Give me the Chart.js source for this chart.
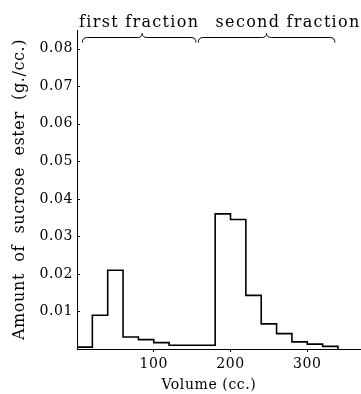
<!DOCTYPE html>
<html>
<head>
<meta charset="utf-8">
<script src="https://cdn.jsdelivr.net/npm/chart.js@4.4.1/dist/chart.umd.min.js"></script>
<style>
    html, body { margin: 0; padding: 0; background: #fff; }
    #wrap { width: 361px; height: 394px; }
</style>
</head>
<body>
<div id="wrap"><canvas id="chart"></canvas></div>
<script>
// left edge of each 20 cc. bin and the amount found in it (g./cc.)
var binStart = [0, 20, 40, 60, 80, 100, 120, 140, 160, 180, 200, 220, 240, 260, 280, 300, 320, 340];
var amount = [0.0005, 0.009, 0.021, 0.0032, 0.0025, 0.0017, 0.001, 0.001, 0.001, 0.036, 0.0345, 0.0143, 0.0067, 0.0041, 0.0019, 0.0013, 0.0007, 0];

var xTicks = [100, 200, 300];
var yTicks = [0.01, 0.02, 0.03, 0.04, 0.05, 0.06, 0.07, 0.08];

// braces over the two fractions (volume, cc.)
var fractionNames = ['first fraction', 'second fraction'];
var fractionFrom = [7, 158];
var fractionTip = [85, 247];
var fractionTo = [155, 336];
var fractionLabelAt = [81, 275];

Chart.defaults.font.family = '"DejaVu Serif", serif';
Chart.defaults.color = '#000';

var points = binStart.map(function (x, i) {
    return { x: x, y: amount[i] };
});

var ink = {
    id: 'ink',
    beforeDraw: function (chart) {
        chart.ctx.letterSpacing = '0.6px';
    },
    afterDraw: function (chart) {
        var ctx = chart.ctx;
        var xs = chart.scales.x;
        var ys = chart.scales.y;
        var top = chart.chartArea.top;

        ctx.save();
        ctx.strokeStyle = '#000';
        ctx.lineWidth = 1;

        // little tick marks inside the y axis
        yTicks.forEach(function (v) {
            var py = Math.round(ys.getPixelForValue(v)) + 0.5;
            ctx.beginPath();
            ctx.moveTo(xs.left, py);
            ctx.lineTo(xs.left + 3, py);
            ctx.stroke();
        });

        ctx.font = '16px "DejaVu Serif"';
        ctx.fillStyle = '#000';
        ctx.textAlign = 'center';
        ctx.textBaseline = 'alphabetic';
        ctx.letterSpacing = '1.3px';

        for (var i = 0; i < fractionNames.length; i++) {
            var x1 = xs.getPixelForValue(fractionFrom[i]);
            var xm = xs.getPixelForValue(fractionTip[i]);
            var x2 = xs.getPixelForValue(fractionTo[i]);
            var yb = top + 7.5;

            ctx.beginPath();
            ctx.moveTo(x1, yb + 5);
            ctx.quadraticCurveTo(x1, yb, x1 + 5, yb);
            ctx.lineTo(xm - 5, yb);
            ctx.quadraticCurveTo(xm, yb, xm, yb - 4);
            ctx.quadraticCurveTo(xm, yb, xm + 5, yb);
            ctx.lineTo(x2 - 5, yb);
            ctx.quadraticCurveTo(x2, yb, x2, yb + 5);
            ctx.stroke();

            ctx.fillText(fractionNames[i], xs.getPixelForValue(fractionLabelAt[i]), top - 3);
        }
        ctx.restore();
    }
};

var ctx = document.getElementById('chart').getContext('2d');

var myChart = new Chart(ctx, {
    type: 'line',
    data: {
        datasets: [{
            data: points,
            borderColor: '#000',
            borderWidth: 1.6,
            stepped: 'before',
            pointRadius: 0,
            fill: false
        }]
    },
    options: {
        responsive: true,
        maintainAspectRatio: false,
        animation: false,
        layout: { padding: { top: 30, right: 0, bottom: 0, left: 0 } },
        plugins: {
            legend: { display: false },
            tooltip: { enabled: false }
        },
        scales: {
            x: {
                type: 'linear',
                min: 0,
                max: 370,
                afterBuildTicks: function (scale) {
                    scale.ticks = xTicks.map(function (v) { return { value: v }; });
                },
                afterFit: function (scale) {
                    scale.height = 45;
                },
                grid: { drawOnChartArea: false, drawTicks: true, tickLength: 3, color: '#000' },
                border: { color: '#000', width: 1 },
                ticks: { padding: 4, maxRotation: 0, font: { size: 14 } },
                // trailing blanks pull the title a little left, as in the original
                title: { display: true, text: 'Volume (cc.)    ', font: { size: 14 }, padding: 0 }
            },
            y: {
                min: 0,
                max: 0.085,
                afterBuildTicks: function (scale) {
                    scale.ticks = yTicks.map(function (v) { return { value: v }; });
                },
                afterFit: function (scale) {
                    scale.width = 77;
                },
                grid: { display: false, drawTicks: false },
                border: { color: '#000', width: 1 },
                ticks: {
                    padding: 4,
                    font: { size: 14 },
                    callback: function (v) { return v.toFixed(2); }
                },
                title: {
                    display: true,
                    text: 'Amount  of  sucrose  ester  (g./cc.)',
                    font: { size: 16 },
                    padding: { top: 10, bottom: 0 }
                }
            }
        }
    },
    plugins: [ink]
});
</script>
</body>
</html>
